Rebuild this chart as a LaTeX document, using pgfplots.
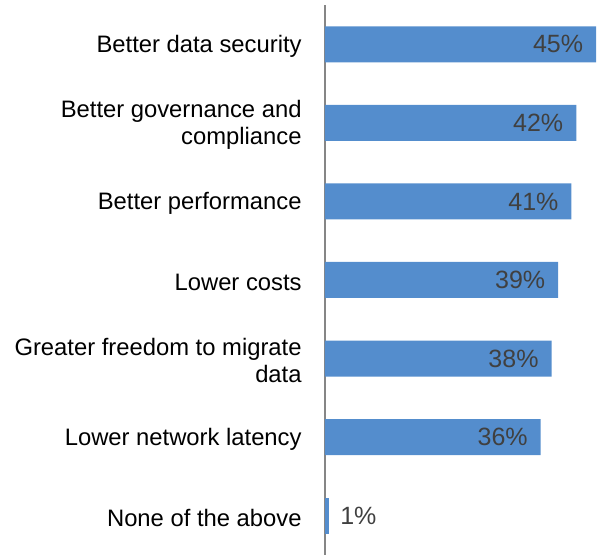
\documentclass[border=0pt]{standalone}
\usepackage{pgfplots}
\pgfplotsset{compat=1.18}
\usepackage{fontspec}
\setmainfont{Liberation Sans}
\definecolor{barblue}{RGB}{84,141,205}
\definecolor{axgray}{RGB}{134,134,134}
\definecolor{valgray}{RGB}{64,64,64}
\begin{document}
\begin{tikzpicture}
\begin{axis}[
  scale only axis,
  width=136.5pt, height=275pt,
  xmin=0, xmax=45.3,
  ymin=-0.5, ymax=6.5,
  y dir=reverse,
  xbar, bar width=18pt,
  hide x axis,
  axis y line*=left,
  y axis line style={draw=axgray, line width=1pt},
  ytick={0,1,2,3,4,5,6},
  yticklabels={Better data security, {Better governance and\\compliance}, Better performance, Lower costs, {Greater freedom to migrate\\data}, Lower network latency, None of the above},
  major tick length=0pt,
  yticklabel style={font=\fontsize{11.9}{13.6}\selectfont, align=right, inner sep=0pt, xshift=-11.5pt, yshift=-1pt, text=black},
  point meta=explicit symbolic,
  nodes near coords={\pgfplotspointmeta\%},
  every node near coord/.append style={font=\fontsize{12.5}{14}\selectfont, text=valgray},
  clip=false,
]
\addplot[fill=barblue, draw=none, bar shift=0pt,
  every node near coord/.append style={anchor=east, xshift=-3pt}]
  coordinates {(45,0)[45] (41.7,1)[42] (40.9,2)[41] (38.7,3)[39] (37.6,4)[38] (35.8,5)[36]};
\addplot[fill=barblue, draw=none, bar shift=0pt,
  every node near coord/.append style={anchor=west, xshift=2pt}]
  coordinates {(0.7,6)[1]};
\end{axis}
\path (current axis.south west) +(-162.5pt,0) (current axis.north east) +(0,2.5pt);
\end{tikzpicture}
\end{document}
